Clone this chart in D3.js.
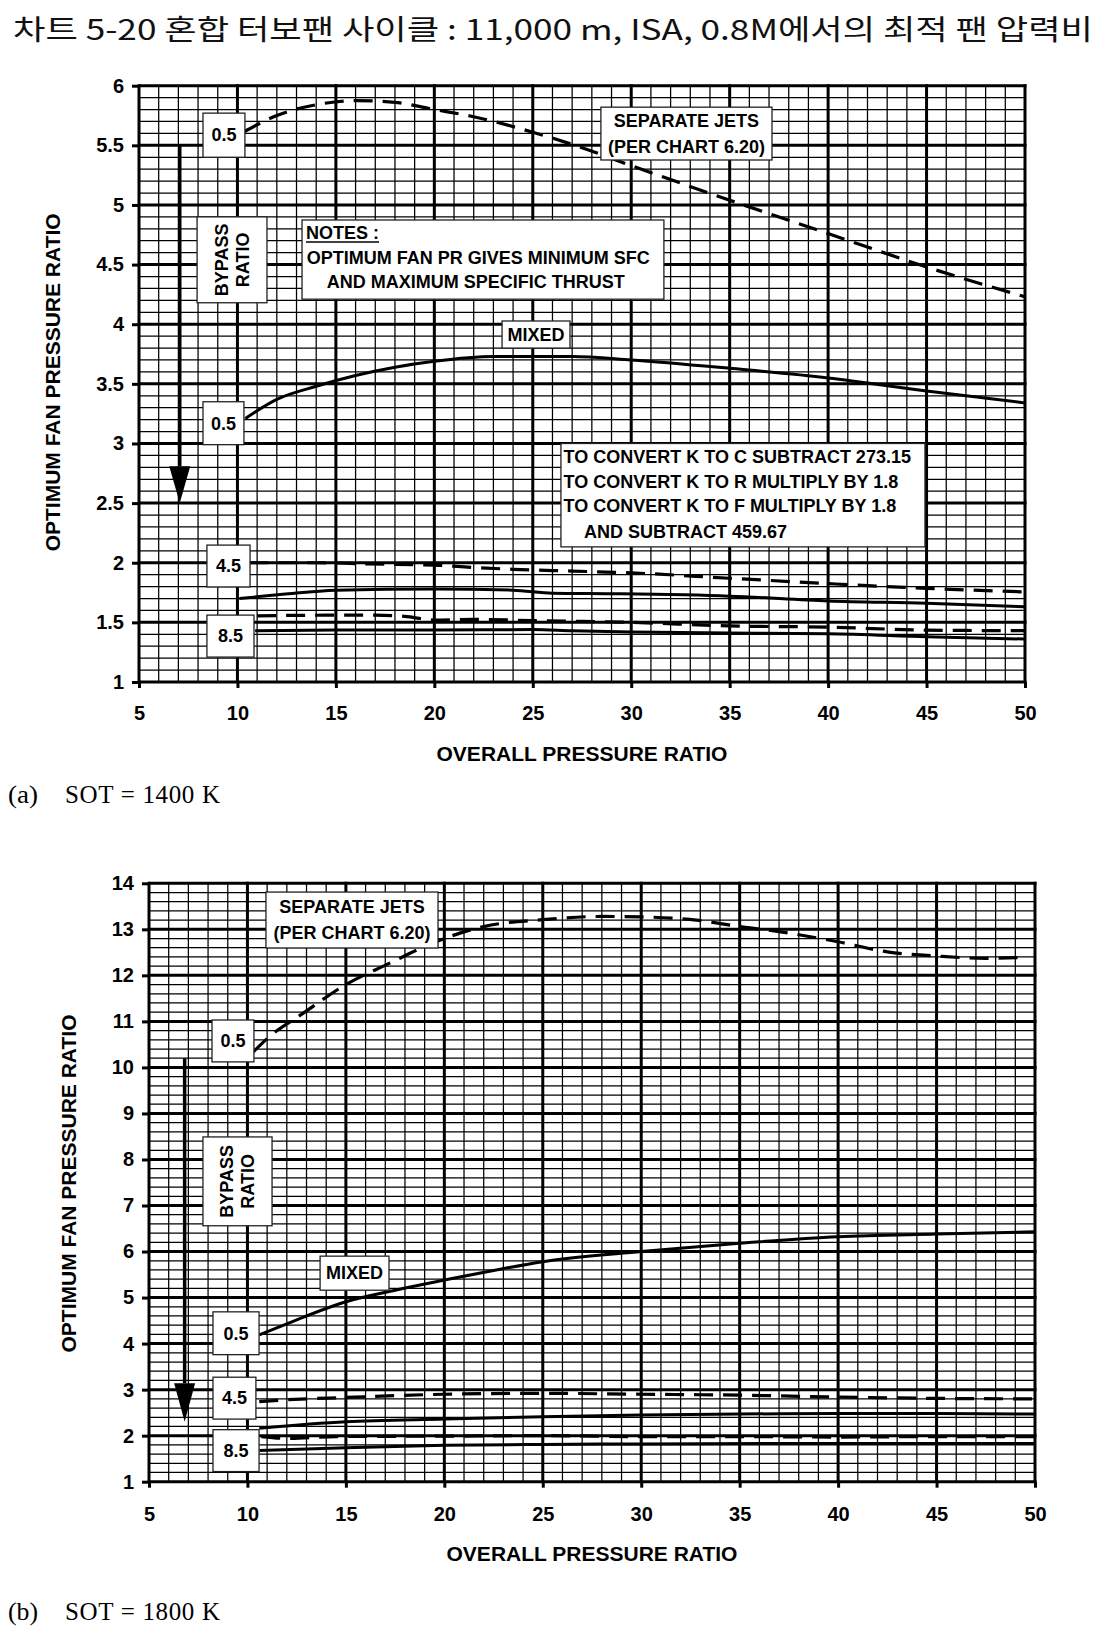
<!DOCTYPE html>
<html><head><meta charset="utf-8">
<script src="https://cdn.jsdelivr.net/npm/d3@7"></script>
<style>html,body{margin:0;padding:0;background:#fff;} svg{display:block;}</style>
</head><body>
<svg id="c" width="1106" height="1641"></svg>
<script>
// ---------------- DATA ----------------
const titleText = "차트 5-20 혼합 터보팬 사이클 : 11,000 m, ISA, 0.8M에서의 최적 팬 압력비";
const xAxisTitle = "OVERALL PRESSURE RATIO";
const yAxisTitle = "OPTIMUM FAN PRESSURE RATIO";
const xTickValues = [5, 10, 15, 20, 25, 30, 35, 40, 45, 50];
const yTickValuesA = [1, 1.5, 2, 2.5, 3, 3.5, 4, 4.5, 5, 5.5, 6];
const yTickValuesB = [1, 2, 3, 4, 5, 6, 7, 8, 9, 10, 11, 12, 13, 14];
const captionA = ["(a)", "SOT = 1400 K"];
const captionB = ["(b)", "SOT = 1800 K"];

// Chart (a) SOT = 1400 K : [overall pressure ratio, optimum fan pressure ratio]
const sepA_05 = [[10.3,5.61],[12,5.75],[14,5.84],[16,5.875],[18,5.86],[20,5.80],[22,5.74],[25,5.61],[27.5,5.48],[30,5.33],[35,5.04],[40,4.76],[45,4.48],[50,4.23]];
const mixA_05 = [[10.4,3.21],[12,3.37],[14,3.48],[16,3.57],[18,3.64],[20,3.69],[23,3.73],[27,3.73],[30,3.70],[35,3.63],[40,3.55],[45,3.44],[50,3.34]];
const sepA_45 = [[10.6,2.0],[14,2.0],[16.7,1.99],[20,1.98],[22,1.96],[24,1.945],[27,1.93],[30,1.915],[35,1.87],[40,1.825],[45,1.785],[50,1.755]];
const mixA_45 = [[10.1,1.70],[12.3,1.735],[15,1.77],[20,1.78],[24,1.77],[26,1.745],[29,1.74],[35,1.72],[40,1.68],[45,1.66],[50,1.63]];
const sepA_85 = [[11,1.555],[14.5,1.56],[17,1.56],[18.5,1.55],[20,1.52],[22,1.525],[25,1.515],[30,1.50],[35,1.47],[40,1.46],[45,1.435],[50,1.43]];
const mixA_85 = [[10.9,1.43],[15,1.435],[20,1.435],[25,1.44],[27,1.43],[30,1.42],[35,1.41],[40,1.405],[45,1.38],[50,1.36]];

// Chart (b) SOT = 1800 K
const sepB_05 = [[10.3,10.34],[11.2,10.70],[12.7,11.14],[15,11.80],[17.2,12.26],[19.4,12.70],[22,13.06],[25,13.21],[28,13.28],[30,13.27],[32.8,13.2],[35,13.06],[37,12.95],[40,12.73],[42.5,12.51],[45,12.42],[47.5,12.37],[49.5,12.39]];
const mixB_05 = [[10.6,4.19],[12,4.43],[15,4.91],[17.5,5.16],[20,5.38],[22.5,5.59],[25,5.78],[30,6.0],[35,6.18],[40,6.32],[45,6.38],[50,6.43]];
const sepB_45 = [[10.6,2.74],[12,2.78],[15,2.83],[20,2.9],[25,2.92],[30,2.9],[35,2.88],[40,2.84],[45,2.81],[50,2.80]];
const mixB_45 = [[10.6,2.16],[15,2.30],[20,2.36],[25,2.41],[30,2.45],[35,2.47],[40,2.48],[45,2.48],[50,2.47]];
const sepB_85 = [[10.7,1.98],[12,1.94],[14.5,1.98],[20,1.99],[25,2.0],[30,1.98],[35,1.98],[40,1.97],[45,1.98],[50,1.98]];
const mixB_85 = [[10.6,1.68],[15,1.74],[20,1.79],[25,1.81],[30,1.82],[40,1.83],[50,1.83]];

// ---------------- LAYOUT ----------------
const FONT = "'Liberation Sans', Arial, Helvetica, sans-serif";
const SERIF = "'Liberation Serif', 'Times New Roman', serif";
const svg = d3.select("#c");

svg.append("text").attr("x", 13).attr("y", 40)
  .attr("font-family", "'Noto Sans CJK KR', 'Noto Sans', sans-serif")
  .attr("font-size", 28).attr("textLength", 1080).attr("lengthAdjust", "spacingAndGlyphs")
  .attr("fill", "#111").text(titleText);

function panel(p) {
  const x = d3.scaleLinear().domain([5, 50]).range([p.left, p.right]);
  const y = d3.scaleLinear().domain([p.yMin, p.yMax]).range([p.bottom, p.top]);
  const g = svg.append("g");

  const xMinor = d3.range(5, 51, 1);
  const nY = Math.round((p.yMax - p.yMin) / p.yMinorStep);
  const yMinor = d3.range(nY + 1).map(i => p.yMin + i * p.yMinorStep);

  g.append("g").selectAll("line").data(xMinor).join("line")
    .attr("x1", d => x(d)).attr("x2", d => x(d)).attr("y1", p.top).attr("y2", p.bottom)
    .attr("stroke", "#000").attr("stroke-width", 1.25);
  g.append("g").selectAll("line").data(yMinor).join("line")
    .attr("x1", p.left).attr("x2", p.right).attr("y1", d => y(d)).attr("y2", d => y(d))
    .attr("stroke", "#000").attr("stroke-width", 1.25);
  g.append("g").selectAll("line").data(xTickValues).join("line")
    .attr("x1", d => x(d)).attr("x2", d => x(d)).attr("y1", p.top - 1.5).attr("y2", p.bottom)
    .attr("stroke", "#000").attr("stroke-width", 3);
  g.append("g").selectAll("line").data(p.yTicks).join("line")
    .attr("x1", p.left).attr("x2", p.right + 1.5).attr("y1", d => y(d)).attr("y2", d => y(d))
    .attr("stroke", "#000").attr("stroke-width", 3);

  // axes (ticks + labels)
  const ax = g.append("g").attr("transform", `translate(0,${p.bottom})`)
    .call(d3.axisBottom(x).tickValues(xTickValues).tickSize(6).tickSizeOuter(0).tickPadding(p.xPad).tickFormat(d3.format("d")));
  const ay = g.append("g").attr("transform", `translate(${p.left},0)`)
    .call(d3.axisLeft(y).tickValues(p.yTicks).tickSize(7).tickSizeOuter(0).tickPadding(p.yPad).tickFormat(d => String(d)));
  [ax, ay].forEach(a => {
    a.select(".domain").remove();
    a.selectAll(".tick line").attr("stroke", "#000").attr("stroke-width", 3);
    a.selectAll("text").attr("font-family", FONT).attr("font-weight", "bold").attr("font-size", 20).attr("fill", "#000");
  });

  // curves
  const line = d3.line().x(d => x(d[0])).y(d => y(d[1])).curve(d3.curveMonotoneX);
  p.series.forEach(s => {
    g.append("path").attr("d", line(s.data)).attr("fill", "none").attr("stroke", "#000")
      .attr("stroke-width", s.dashed ? 3.2 : 3).attr("stroke-dasharray", s.dashed ? "19,10" : null)
      .attr("stroke-linejoin", "round");
  });

  // bypass arrow
  const ar = p.arrow;
  g.append("line").attr("x1", x(ar.x)).attr("x2", x(ar.x)).attr("y1", y(ar.yTop)).attr("y2", y(ar.yBase))
    .attr("stroke", "#000").attr("stroke-width", 3.5);
  g.append("path").attr("d", `M${x(ar.x) - 10.5},${y(ar.yBase)}L${x(ar.x) + 10.5},${y(ar.yBase)}L${x(ar.x)},${y(ar.yTip)}Z`)
    .attr("fill", "#000");

  // annotation boxes
  p.boxes.forEach(b => {
    const bx0 = x(b.x0), bx1 = x(b.x1), by0 = y(b.y1), by1 = y(b.y0);
    g.append("rect").attr("x", bx0).attr("y", by0).attr("width", bx1 - bx0).attr("height", by1 - by0)
      .attr("fill", "#fff").attr("stroke", "#222").attr("stroke-width", 1.3);
    const cx = (bx0 + bx1) / 2, cy = (by0 + by1) / 2;
    if (b.rotate) {
      const n = b.lines.length;
      b.lines.forEach((t, i) => {
        const lx = cx + (i - (n - 1) / 2) * 21;
        g.append("text").attr("transform", `translate(${lx},${cy}) rotate(-90)`)
          .attr("text-anchor", "middle").attr("dy", "0.35em")
          .attr("font-family", FONT).attr("font-weight", "bold").attr("font-size", 18).text(t);
      });
    } else if (b.left) {
      b.lines.forEach((t, i) => {
        const te = g.append("text").attr("x", bx0 + b.indent[i]).attr("y", by0 + b.base[i])
          .attr("font-family", FONT).attr("font-weight", "bold").attr("font-size", 18).text(t);
        if (b.underline && i === 0) {
          const w = te.node().getComputedTextLength();
          g.append("line").attr("x1", bx0 + b.indent[i]).attr("x2", bx0 + b.indent[i] + w)
            .attr("y1", by0 + b.base[i] + 3).attr("y2", by0 + b.base[i] + 3)
            .attr("stroke", "#000").attr("stroke-width", 1.6);
        }
      });
    } else {
      const n = b.lines.length;
      b.lines.forEach((t, i) => {
        const ly = cy + (i - (n - 1) / 2) * 25.7;
        g.append("text").attr("x", cx).attr("y", ly).attr("dy", "0.35em").attr("text-anchor", "middle")
          .attr("font-family", FONT).attr("font-weight", "bold").attr("font-size", 18).text(t);
      });
    }
  });

  // axis titles
  g.append("text").attr("x", (p.left + p.right) / 2).attr("y", p.xTitleY).attr("text-anchor", "middle")
    .attr("font-family", FONT).attr("font-weight", "bold").attr("font-size", 21).text(xAxisTitle);
  g.append("text").attr("transform", `translate(${p.yTitleX},${(p.top + p.bottom) / 2 - p.yTitleShift}) rotate(-90)`)
    .attr("text-anchor", "middle").attr("dy", "0.35em")
    .attr("font-family", FONT).attr("font-weight", "bold").attr("font-size", 21).text(yAxisTitle);

  // caption
  g.append("text").attr("x", 8).attr("y", p.capY).attr("font-family", SERIF).attr("font-size", 25)
    .attr("textLength", 30).attr("lengthAdjust", "spacingAndGlyphs").text(p.caption[0]);
  g.append("text").attr("x", 65).attr("y", p.capY).attr("font-family", SERIF).attr("font-size", 25)
    .attr("textLength", 155).attr("lengthAdjust", "spacing").text(p.caption[1]);
}

panel({
  left: 139, right: 1025, top: 85.7, bottom: 682,
  yMin: 1, yMax: 6, yMinorStep: 0.1, yTicks: yTickValuesA,
  xPad: 18, yPad: 8, xTitleY: 760.5, yTitleX: 53, yTitleShift: 1.5, capY: 803,
  caption: captionA,
  series: [
    { data: sepA_05, dashed: true }, { data: mixA_05, dashed: false },
    { data: sepA_45, dashed: true }, { data: mixA_45, dashed: false },
    { data: sepA_85, dashed: true }, { data: mixA_85, dashed: false }
  ],
  arrow: { x: 7.07, yTop: 5.5, yBase: 2.81, yTip: 2.5 },
  boxes: [
    { x0: 8.25, x1: 10.38, y0: 5.40, y1: 5.77, lines: ["0.5"] },
    { x0: 7.95, x1: 11.5, y0: 4.18, y1: 4.90, lines: ["BYPASS", "RATIO"], rotate: true },
    { x0: 13.28, x1: 31.66, y0: 4.21, y1: 4.874, lines: ["NOTES :", "OPTIMUM FAN PR GIVES MINIMUM SFC", "AND MAXIMUM SPECIFIC THRUST"],
      left: true, indent: [4, 4.7, 24.7], base: [19, 44.5, 68], underline: true },
    { x0: 23.44, x1: 26.89, y0: 3.80, y1: 4.027, lines: ["MIXED"] },
    { x0: 28.46, x1: 37.15, y0: 5.377, y1: 5.82, lines: ["SEPARATE JETS", "(PER CHART 6.20)"] },
    { x0: 8.25, x1: 10.33, y0: 2.99, y1: 3.35, lines: ["0.5"] },
    { x0: 8.45, x1: 10.64, y0: 1.797, y1: 2.148, lines: ["4.5"] },
    { x0: 8.45, x1: 10.84, y0: 1.209, y1: 1.561, lines: ["8.5"] },
    { x0: 26.43, x1: 44.92, y0: 2.133, y1: 3.0,
      lines: ["TO CONVERT K TO C SUBTRACT 273.15", "TO CONVERT K TO R MULTIPLY BY 1.8", "TO CONVERT K TO F MULTIPLY BY 1.8", "AND SUBTRACT 459.67"],
      left: true, indent: [2.6, 2.6, 2.6, 23], base: [19.2, 44.2, 68.5, 94.2] }
  ]
});

panel({
  left: 149, right: 1035, top: 883.3, bottom: 1481.7,
  yMin: 1, yMax: 14, yMinorStep: 0.2, yTicks: yTickValuesB,
  xPad: 19, yPad: 8, xTitleY: 1560.5, yTitleX: 69, yTitleShift: -1, capY: 1620,
  caption: captionB,
  series: [
    { data: sepB_05, dashed: true }, { data: mixB_05, dashed: false },
    { data: sepB_45, dashed: true }, { data: mixB_45, dashed: false },
    { data: sepB_85, dashed: true }, { data: mixB_85, dashed: false }
  ],
  arrow: { x: 6.81, yTop: 10.2, yBase: 3.14, yTip: 2.30 },
  boxes: [
    { x0: 10.94, x1: 19.68, y0: 12.595, y1: 13.81, lines: ["SEPARATE JETS", "(PER CHART 6.20)"] },
    { x0: 8.2, x1: 10.33, y0: 10.12, y1: 11.03, lines: ["0.5"] },
    { x0: 7.74, x1: 11.25, y0: 6.56, y1: 8.49, lines: ["BYPASS", "RATIO"], rotate: true },
    { x0: 13.69, x1: 17.19, y0: 5.16, y1: 5.90, lines: ["MIXED"] },
    { x0: 8.25, x1: 10.59, y0: 3.76, y1: 4.69, lines: ["0.5"] },
    { x0: 8.25, x1: 10.43, y0: 2.36, y1: 3.27, lines: ["4.5"] },
    { x0: 8.25, x1: 10.59, y0: 1.22, y1: 2.13, lines: ["8.5"] }
  ]
});
</script>
</body></html>
